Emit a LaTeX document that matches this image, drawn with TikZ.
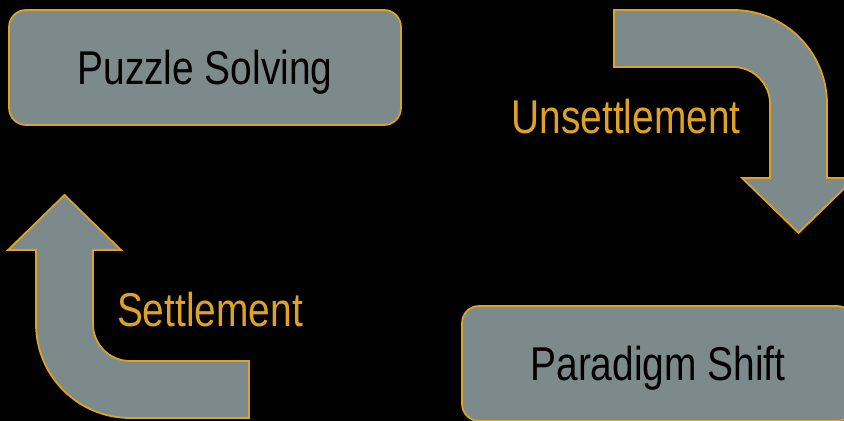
\documentclass[tikz,border=0pt]{standalone}
\usepackage{fontspec}
\setmainfont{Liberation Sans}[FakeStretch=0.82]
\usepackage{xcolor}
\definecolor{panelgray}{RGB}{124,138,139}
\definecolor{goldline}{RGB}{222,163,36}
\usepackage{tikz}
\usetikzlibrary{positioning}
\tikzset{
  stage/.style={rectangle,draw=goldline,line width=1pt,rounded corners=0.34cm,fill=panelgray,minimum width=7.84cm,minimum height=2.3cm,text=black,text depth=0pt,font=\fontsize{27}{31}\selectfont},
  bendarrow/.style={draw=goldline,line width=1pt,fill=panelgray},
  phase/.style={text=goldline,font=\fontsize{27}{31}\selectfont}
}

\begin{document}
\begin{tikzpicture}[x=0.02cm,y=0.02cm]
  \useasboundingbox (0,0) rectangle (844,421);
  \clip (0,0) rectangle (844,421);
  \fill[black] (0,0) rectangle (844,421);

  \node[stage] (puzzle) at (205,353.5) {Puzzle Solving};
  \node[stage] (shift) at (658,57.5) {Paradigm Shift};

  % puzzle solving -> paradigm shift
  \draw[bendarrow] (614,411) -- (733,411) arc (90:0:94) -- (827,243) -- (855,243)
    -- (798.5,188) -- (742,243) -- (770,243) -- (770,317) arc (0:90:37) -- (614,354) -- cycle;
  % paradigm shift -> puzzle solving
  \draw[bendarrow] (249,3) -- (130,3) arc (270:180:94) -- (36,171) -- (8,171)
    -- (64.5,226) -- (121,171) -- (93,171) -- (93,97) arc (180:270:37) -- (249,60) -- cycle;

  \node[phase] (unsettle) at (626,304) {Unsettlement};
  \node[phase] (settle) at (210,111) {Settlement};
\end{tikzpicture}
\end{document}
